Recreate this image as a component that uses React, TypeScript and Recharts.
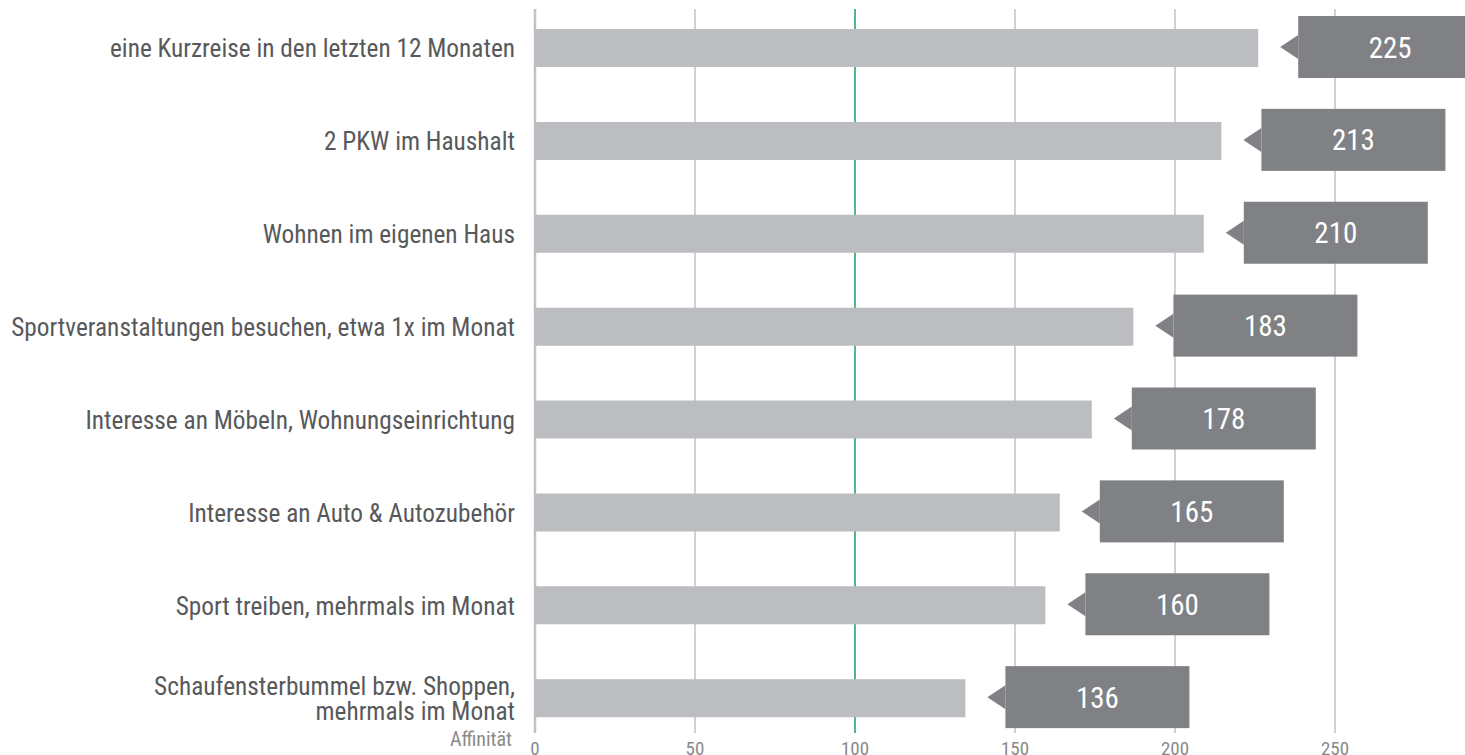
import { Bar, BarChart, CartesianGrid, LabelList, XAxis, YAxis } from 'recharts';

const categories = [
  'eine Kurzreise in den letzten 12 Monaten',
  '2 PKW im Haushalt',
  'Wohnen im eigenen Haus',
  'Sportveranstaltungen besuchen, etwa 1x im Monat',
  'Interesse an Möbeln, Wohnungseinrichtung',
  'Interesse an Auto & Autozubehör',
  'Sport treiben, mehrmals im Monat',
  'Schaufensterbummel bzw. Shoppen,\nmehrmals im Monat'
];
// bar lengths as drawn, and the affinity index printed in the tags
const barValues = [226, 214.5, 209, 187, 174, 164, 159.5, 134.5];
const affinity = [225, 213, 210, 183, 178, 165, 160, 136];
const xTicks = [0, 50, 100, 150, 200, 250];
const highlightTick = 100;

const data = categories.map((name, i) => ({ name, bar: barValues[i], label: affinity[i] }));

const FONT = "'Roboto Condensed', Roboto, sans-serif";
const BAR = '#bcbdc1';
const TAG = '#808185';

const CategoryTick = ({ x, y, payload }: any) => {
  const lines = String(payload.value).split('\n');
  return (
    <text textAnchor="end" fill="#58595b" fontSize={25.3} fontFamily={FONT} style={{ fontStretch: 'condensed' }}>
      {lines.map((line, i) => (
        <tspan key={i} x={x - 12} y={y + 9 + (i - (lines.length - 1) / 2) * 25.5}>
          {line}
        </tspan>
      ))}
    </text>
  );
};

const ValueTick = ({ x, y, payload }: any) => (
  <text x={x} y={y + 2} textAnchor="middle" fill="#8a8a8a" fontSize={19} fontFamily={FONT} style={{ fontStretch: 'condensed' }}>
    {payload.value}
  </text>
);

const ValueTag = (props: any) => {
  const { x, y, width, height, value } = props;
  const end = x + width;
  const cy = y + height / 2 - 1;
  const left = end + 40;
  return (
    <g>
      <polygon points={`${end + 22},${cy} ${left},${cy - 12} ${left},${cy + 12}`} fill={TAG} />
      <rect x={left} y={cy - 31} width={184} height={62} fill={TAG} />
      <text x={left + 92} y={cy + 10.5} textAnchor="middle" fill="#fff" fontSize={29} fontFamily={FONT} style={{ fontStretch: 'condensed' }}>
        {value}
      </text>
    </g>
  );
};

const GridLine = (p: any) => {
  const hi = p.index === xTicks.indexOf(highlightTick);
  return (
    <line
      key={`grid-${p.index}`}
      x1={p.x1}
      x2={p.x2}
      y1={p.y1 + 7}
      y2={p.y2 - 12}
      stroke={hi ? '#1f9d66' : '#c2c2c4'}
      strokeWidth={p.index === 0 ? 2.5 : 1.5}
    />
  );
};

export default function App() {
  return (
    <div style={{ position: 'absolute', left: 0, top: 0, width: 1465, height: 755, background: '#fff' }}>
      <BarChart
        width={1465}
        height={755}
        data={data}
        layout="vertical"
        margin={{ top: 2, right: 0, bottom: 0, left: 0 }}
      >
        <CartesianGrid horizontal={false} vertical={GridLine} syncWithTicks />
        <XAxis
          type="number"
          domain={[0, 290.625]}
          ticks={xTicks}
          height={10}
          axisLine={false}
          tickLine={false}
          tick={<ValueTick />}
          interval={0}
          label={{
            content: (lp: any) => (
              <text
                x={lp.viewBox.x - 23}
                y={lp.viewBox.y + 1}
                textAnchor="end"
                fill="#8a8a8a"
                fontSize={20}
                fontFamily={FONT}
                style={{ fontStretch: 'condensed' }}
              >
                Affinität
              </text>
            )
          }}
        />
        <YAxis
          type="category"
          dataKey="name"
          width={535}
          axisLine={false}
          tickLine={false}
          interval={0}
          tick={<CategoryTick />}
        />
        <Bar dataKey="bar" fill={BAR} barSize={38} isAnimationActive={false}>
          <LabelList dataKey="label" content={<ValueTag />} />
        </Bar>
      </BarChart>
    </div>
  );
}
